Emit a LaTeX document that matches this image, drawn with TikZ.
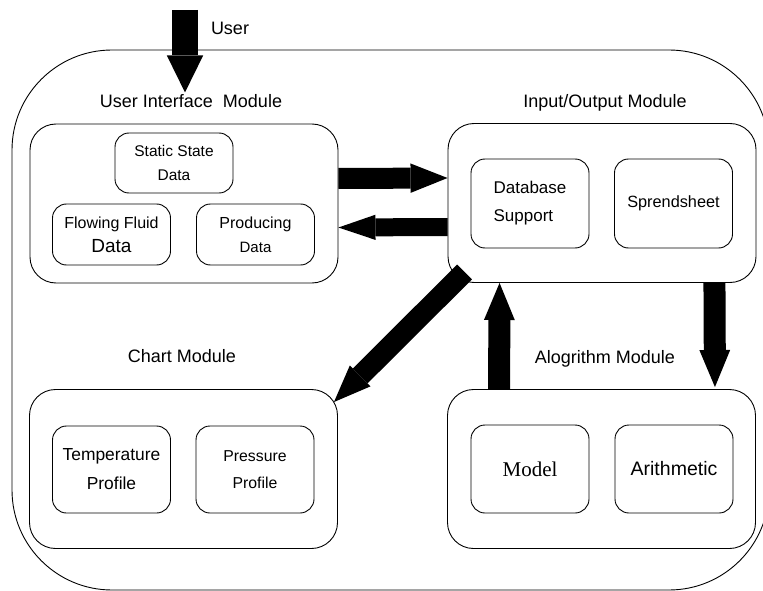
\documentclass[tikz,border=0pt]{standalone}
\usepackage{fontspec}
\setmainfont{Liberation Sans}
\newfontfamily\timesfont{Liberation Serif}
\usetikzlibrary{arrows.meta}

\tikzset{
    module/.style={draw, line width=0.9pt, rounded corners=26pt, minimum width=308pt, minimum height=159pt, inner sep=0pt},
    part/.style={draw, line width=0.9pt, rounded corners=14pt, minimum width=118pt, minimum height=#1, inner sep=0pt, align=center},
    title/.style={anchor=base, font=\fontsize{18}{22}\selectfont},
    blockarrow/.style={line width=#1, -{Triangle[length=37pt, width=0pt 1.4, line width=0pt]}}
}

\begin{document}
\begin{tikzpicture}[x=1pt, y=-1pt]
    \useasboundingbox (0,0) rectangle (763,591);
    \clip (0,0) rectangle (763,591);

    % whole system
    \node[draw, line width=0.9pt, rounded corners=100pt, minimum width=757pt, minimum height=540pt] (system) at (390.5,320) {};

    % module titles
    \node[title] (user) at (230,35) {User};
    \node[title] (uititle) at (191,108) {User Interface\ \ Module};
    \node[title] (iotitle) at (605,108) {Input/Output Module};
    \node[title] (charttitle) at (182,362) {Chart Module};
    \node[title] (algtitle) at (605,363) {Alogrithm Module};

    % modules
    \node[module] (ui) at (184,203.5) {};
    \node[module] (io) at (602,203) {};
    \node[module] (chart) at (183.5,469) {};
    \node[module] (alg) at (601.5,469) {};

    % user interface parts
    \node[part=60pt, font=\fontsize{15.5}{24}\selectfont] (static) at (174,163) {Static State\\Data};
    \node[part=61pt, font=\fontsize{16}{24}\selectfont] (flowing) at (111.5,234.5) {Flowing Fluid\\{\fontsize{19}{24}\selectfont Data}};
    \node[part=61pt, font=\fontsize{16}{24}\selectfont] (producing) at (255.5,234.5) {Producing\\{\fontsize{15}{24}\selectfont Data}};

    % input/output parts
    \node[part=89pt, align=left, font=\fontsize{17}{28}\selectfont] (database) at (530,203.5) {Database\\Support};
    \node[part=89pt, font=\fontsize{16.3}{28}\selectfont] (sprend) at (673.5,203.5) {Sprendsheet};

    % chart parts
    \node[part=87pt, font=\fontsize{17.4}{29}\selectfont] (temp) at (111.5,469.5) {Temperature\\Profile};
    \node[part=87pt, font=\fontsize{15.8}{27}\selectfont] (pressure) at (255,469.5) {Pressure\\Profile};

    % algorithm parts
    \node[part=88pt, font=\timesfont\fontsize{21}{24}\selectfont] (model) at (530,469) {Model};
    \node[part=88pt, font=\fontsize{19.5}{24}\selectfont] (arith) at (674,469) {Arithmetic};

    % data flow
    \coordinate (usertop) at (185,10);
    \draw[blockarrow=26pt] (usertop) -- ([xshift=-6pt,yshift=-1pt]uititle.north);
    \draw[blockarrow=21pt] ([yshift=25pt]ui.east) -- ([yshift=25pt]io.west);
    \draw[blockarrow=18pt] ([yshift=-24pt]io.west) -- ([yshift=-24pt]ui.east);
    \draw[blockarrow=21pt] ([xshift=17pt,yshift=11pt]io.south west) -- ([xshift=-4pt,yshift=-13pt]chart.north east);
    \draw[blockarrow=22pt] ([xshift=52pt]alg.north west) -- ([xshift=52pt]io.south west);
    \draw[blockarrow=22pt] ([xshift=-42pt]io.south east) -- ([xshift=-41pt,yshift=2pt]alg.north east);
\end{tikzpicture}
\end{document}
